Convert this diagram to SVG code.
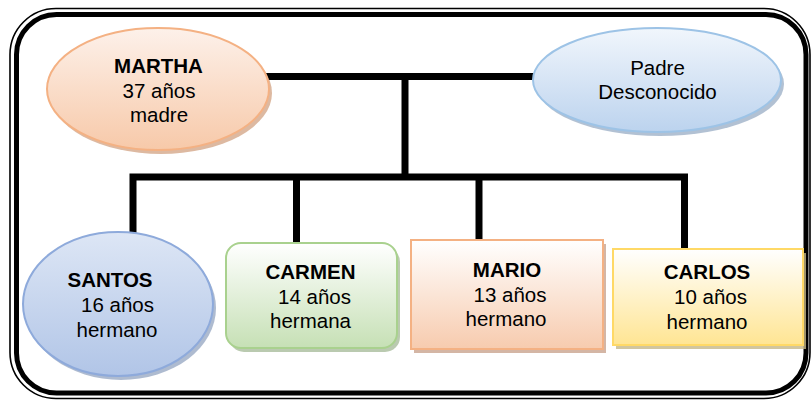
<svg xmlns="http://www.w3.org/2000/svg" width="811" height="401" viewBox="0 0 811 401">
<defs>
<linearGradient id="gPeach" x1="0" y1="0" x2="0" y2="1"><stop offset="0" stop-color="#fdf1ea"/><stop offset="1" stop-color="#f7c9a9"/></linearGradient>
<linearGradient id="gLightBlue" x1="0" y1="0" x2="0" y2="1"><stop offset="0" stop-color="#f1f6fc"/><stop offset="1" stop-color="#bcd3ee"/></linearGradient>
<linearGradient id="gBlue" x1="0" y1="0" x2="0" y2="1"><stop offset="0" stop-color="#dde6f5"/><stop offset="1" stop-color="#b1c5e7"/></linearGradient>
<linearGradient id="gGreen" x1="0" y1="0" x2="0" y2="1"><stop offset="0" stop-color="#ffffff"/><stop offset="1" stop-color="#c6e0b5"/></linearGradient>
<linearGradient id="gMario" x1="0" y1="0" x2="0" y2="1"><stop offset="0" stop-color="#ffffff"/><stop offset="1" stop-color="#f7cbae"/></linearGradient>
<linearGradient id="gYellow" x1="0" y1="0" x2="0" y2="1"><stop offset="0" stop-color="#ffffff"/><stop offset="1" stop-color="#ffe593"/></linearGradient>
</defs>
<style>
text{font-family:"Liberation Sans",Arial,sans-serif;font-size:20.5px;fill:#000;text-anchor:middle}
.b{font-weight:bold}
.conn{fill:none;stroke:#000;stroke-width:7;stroke-linejoin:miter;stroke-linecap:butt}
.frame-thin{fill:none;stroke:#000;stroke-width:1.6}
.frame-thick{fill:none;stroke:#000;stroke-width:5}
.shadow{opacity:0.8}
</style>
<rect width="811" height="401" fill="#fff"/>
<g id="frame">
<rect class="frame-thin" x="10" y="8.5" width="800" height="390" rx="46" ry="46"/>
<rect class="frame-thick" x="16.5" y="14.5" width="789.5" height="378.5" rx="40" ry="40"/>
</g>
<g id="connectors">
<path class="conn" d="M260 76.5 H540"/>
<path class="conn" d="M405 76.5 V177"/>
<path class="conn" d="M133 236 V177 H684.5 V249"/>
<path class="conn" d="M296.5 177 V245"/>
<path class="conn" d="M479 177 V241"/>
</g>
<g id="martha">
<ellipse cx="161" cy="93" rx="111" ry="61" fill="#d4a88a" class="shadow"/>
<ellipse cx="158" cy="89" rx="111" ry="61" fill="url(#gPeach)" stroke="#f4b183" stroke-width="2"/>
<text class="b" x="158.5" y="73">MARTHA</text>
<text x="159" y="98">37 años</text>
<text x="159" y="122">madre</text>
</g>
<g id="padre">
<ellipse cx="660" cy="84" rx="124" ry="52" fill="#9fb2c8" class="shadow"/>
<ellipse cx="657" cy="80" rx="124" ry="52" fill="url(#gLightBlue)" stroke="#9dc3e6" stroke-width="2"/>
<text x="657.5" y="75">Padre</text>
<text x="657.5" y="99">Desconocido</text>
</g>
<g id="santos">
<ellipse cx="121" cy="308" rx="95" ry="72" fill="#9aaac4" class="shadow"/>
<ellipse cx="118" cy="304" rx="95" ry="72" fill="url(#gBlue)" stroke="#8eaadb" stroke-width="2"/>
<text class="b" x="110" y="287">SANTOS</text>
<text x="117.5" y="312">16 años</text>
<text x="117" y="337">hermano</text>
</g>
<g id="carmen">
<rect x="229" y="247" width="171" height="105" rx="15" ry="15" fill="#a9bd9c" class="shadow"/>
<rect x="226" y="243" width="171" height="105" rx="15" ry="15" fill="url(#gGreen)" stroke="#a9d18e" stroke-width="2"/>
<text class="b" x="310.5" y="279">CARMEN</text>
<text x="314.5" y="304">14 años</text>
<text x="310.5" y="328">hermana</text>
</g>
<g id="mario">
<rect x="414" y="244" width="192" height="109" fill="#c9a48e" class="shadow"/>
<rect x="411" y="240" width="192" height="109" fill="url(#gMario)" stroke="#f4b183" stroke-width="2"/>
<text class="b" x="507" y="277">MARIO</text>
<text x="510" y="302">13 años</text>
<text x="506" y="326">hermano</text>
</g>
<g id="carlos">
<rect x="616" y="253" width="190" height="96" fill="#c5b887" class="shadow"/>
<rect x="613" y="249" width="190" height="96" fill="url(#gYellow)" stroke="#ffd966" stroke-width="2"/>
<text class="b" x="707" y="279">CARLOS</text>
<text x="710.5" y="304">10 años</text>
<text x="707" y="329">hermano</text>
</g>
</svg>
